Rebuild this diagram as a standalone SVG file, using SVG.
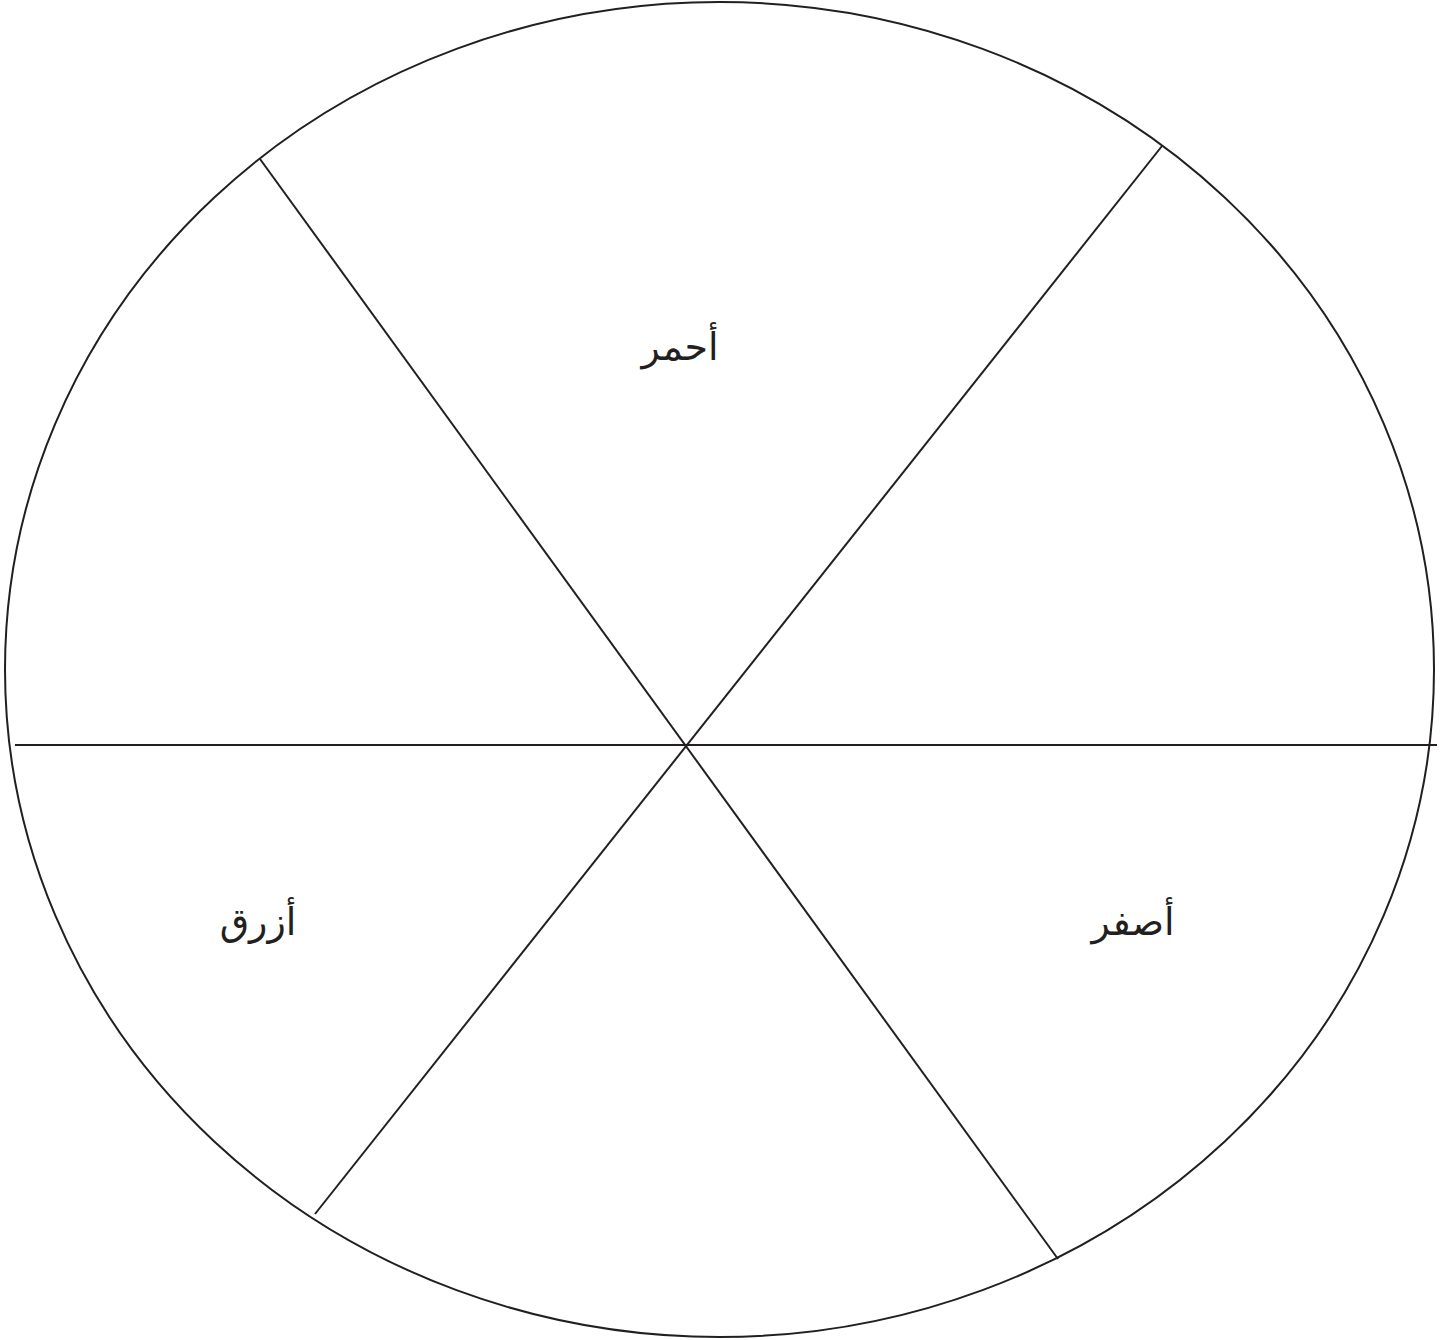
<svg xmlns="http://www.w3.org/2000/svg" width="1456" height="1340" viewBox="0 0 1456 1340">
<style>
.ln{stroke:#231f20;stroke-width:2;fill:none}
.lb{font-family:"DejaVu Sans","Noto Sans",sans-serif;font-size:38px;fill:#231f20;text-anchor:middle}
</style>
<rect width="1456" height="1340" fill="#fff"/>
<g id="wheel">
<ellipse class="ln" cx="719.5" cy="669.5" rx="714.5" ry="667.5"/>
</g>
<g id="connectors">
<line class="ln" x1="15" y1="745" x2="1437" y2="745"/>
<line class="ln" x1="260" y1="159" x2="1058" y2="1259"/>
<line class="ln" x1="1162" y1="146" x2="315" y2="1214"/>
</g>
<g id="red"><text class="lb" x="680" y="360">أحمر</text></g>
<g id="blue"><text class="lb" x="258" y="935">أزرق</text></g>
<g id="yellow"><text class="lb" x="1133" y="935">أصفر</text></g>
</svg>
